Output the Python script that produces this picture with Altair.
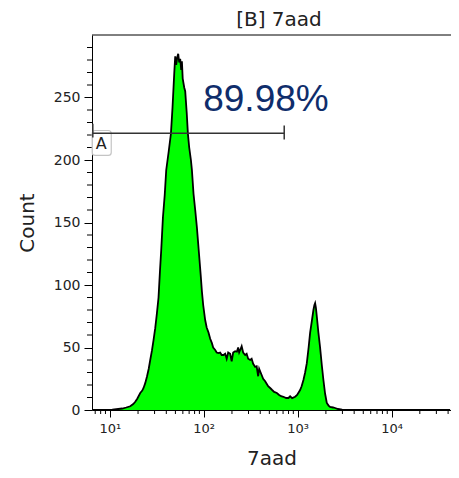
import altair as alt
import pandas as pd

# ---- histogram (7aad channel value, count) ----
channel = [6.6, 7.92, 10.63, 12.31, 13.58, 14.98, 16.52, 17.78, 18.68, 19.62, 21.11, 22.17, 22.89,
           23.86, 24.87, 25.99, 26.97, 28.11, 29.24, 30.48, 31.78, 33.05, 34.29, 35.31, 36.81,
           38.47, 39.92, 42.44, 44.78, 46.57, 48.56, 49.76, 50.99, 52.26, 53.55, 54.89, 56.23,
           57.63, 58.63, 59.79, 62.03, 63.57, 65.94, 67.91, 70.12, 73.10, 74.91, 77.93, 81.24,
           84.69, 87.42, 90.24, 92.91, 95.69, 98.79, 103.7, 107.6, 112.5, 117.3, 122.3, 126.2,
           132.6, 137.5, 143.7, 149.8, 155.4, 162.4, 169.3, 175.7, 182.3, 191.4, 198.6, 206.0,
           216.3, 225.5, 232.8, 238.6, 244.6, 253.7, 263.2, 276.4, 286.7, 297.5, 312.4, 324.1,
           336.3, 353.1, 366.3, 380.0, 389.5, 399.1, 414.1, 429.6, 451.2, 468.1, 485.6, 510.0,
           535.7, 562.3, 600.7, 635.6, 667.6, 706.3, 754.8, 798.5, 832.4, 874.2, 940.6, 987.8,
           1063, 1103, 1153, 1202, 1253, 1309, 1358, 1416, 1473, 1509, 1536, 1565, 1600, 1664,
           1735, 1809, 1882, 1962, 2045, 2137, 2217, 2386, 2506, 2697, 2975, 3618, 7546, 42000]
count = [0, 0, 0.3, 0.8, 1.2, 2.0, 3.0, 4.8, 6.6, 9.0, 13.6, 15.5, 17.6,
         21.5, 26.6, 33, 40, 47.5, 55.9, 65.5, 77.5, 90, 112, 128, 154,
         172, 192, 207, 221, 242, 269, 283, 276, 282, 285, 278, 281,
         272, 279, 265, 258, 255, 238, 221, 210, 200, 192, 173, 160,
         146, 133, 120, 108, 95, 84, 72, 66, 62, 57, 53.5, 50,
         48, 46, 45.5, 46, 44, 44, 45, 41, 46, 45, 39, 46,
         47, 46.6, 50, 46, 48, 51, 46, 44, 45, 41, 40, 41,
         37, 34.5, 35, 27, 33, 31, 28, 25, 23, 21, 19, 17.6,
         16, 14.5, 13.6, 12, 11, 10.6, 9.6, 9.6, 11, 9.5, 10.6, 12,
         16, 19, 24, 30, 37.5, 50, 61.7, 71, 80, 84, 85.5, 82, 75, 62,
         50, 36, 24, 13, 5.6, 3.5, 2.4, 2.0, 1.6, 0.8, 0.3, 0, 0, 0]

# ---- axes ----
x_domain = [6.47, 42950]
y_domain = [0, 300]
x_major = [10, 100, 1000, 10000]
x_minor = [7, 8, 9, 20, 30, 40, 50, 60, 70, 80, 90, 200, 300, 400, 500, 600, 700, 800, 900,
           2000, 3000, 4000, 5000, 6000, 7000, 8000, 9000, 20000, 30000, 40000]
y_major = [0, 50, 100, 150, 200, 250]
y_minor = [10, 20, 30, 40, 60, 70, 80, 90, 110, 120, 130, 140, 160, 170, 180, 190,
           210, 220, 230, 240, 260, 270, 280, 290]

# ---- gate "A" ----
gate_x = [6.6, 720]
gate_y = [221.5]
gate_cap_x = [6.6, 720]
gate_cap_lo = [218, 216.5]
gate_cap_hi = [229, 227.6]
box_x = [6.5, 10.37]
box_y = [203.7, 223.6]
label_A = ["A"]
label_A_pos = [8.12, 213]
pct_text = ["89.98%"]
pct_pos = [98.8, 239.6]
chart_title = ["[B] 7aad"]

W, H = 359, 375
FONT = "DejaVu Sans"

xs = alt.Scale(type="log", domain=x_domain, nice=False)
ys = alt.Scale(domain=y_domain, nice=False, zero=True)

x_axis = alt.Axis(values=x_major, tickSize=7, labelPadding=5, labelFontSize=13,
                  labelExpr="'10' + (datum.value == 10 ? '¹' : datum.value == 100 ? '²' : datum.value == 1000 ? '³' : '⁴')",
                  grid=False, titleY=48, titleBaseline="middle", labelFlush=False)
y_axis = alt.Axis(values=y_major, tickSize=8, labelPadding=4, labelFontSize=14,
                  grid=False, titleX=-65, titleBaseline="middle", labelFlush=False)


def X(field):
    return alt.X(field, scale=xs, axis=x_axis, title="7aad")


def Y(field):
    return alt.Y(field, scale=ys, axis=y_axis, title="Count")


df = pd.DataFrame({"channel": channel, "count": count})

hist = alt.Chart(df).mark_area(
    color="#00ff00", opacity=1, fillOpacity=1, interpolate="linear",
    line={"color": "black", "strokeWidth": 1.8}
).encode(x=X("channel:Q"), y=Y("count:Q"))

xminor = alt.Chart(pd.DataFrame({"v": x_minor})).mark_rule(color="black", strokeWidth=1).encode(
    x=X("v:Q"), y=alt.value(H), y2=alt.value(H + 4))

yminor = alt.Chart(pd.DataFrame({"v": y_minor})).mark_rule(color="black", strokeWidth=1).encode(
    y=Y("v:Q"), x=alt.value(-5), x2=alt.value(0))

topline = alt.Chart(pd.DataFrame({"v": [y_domain[1]]})).mark_rule(color="black", strokeWidth=1).encode(
    y=Y("v:Q"), x=alt.value(0), x2=alt.value(W))

box = alt.Chart(pd.DataFrame({"x": [box_x[0]], "x2": [box_x[1]], "y": [box_y[0]], "y2": [box_y[1]]})).mark_rect(
    fill="white", stroke="#c4c4c4", strokeWidth=1.2, cornerRadius=3
).encode(x=X("x:Q"), x2="x2:Q", y=Y("y:Q"), y2="y2:Q")

gate = alt.Chart(pd.DataFrame({"x": [gate_x[0]], "x2": [gate_x[1]], "y": gate_y})).mark_rule(
    color="#333333", strokeWidth=1.5
).encode(x=X("x:Q"), x2="x2:Q", y=Y("y:Q"))

caps = alt.Chart(pd.DataFrame({"x": gate_cap_x, "lo": gate_cap_lo, "hi": gate_cap_hi})).mark_rule(
    color="#333333", strokeWidth=1.5
).encode(x=X("x:Q"), y=Y("lo:Q"), y2="hi:Q")

a_text = alt.Chart(pd.DataFrame({"x": [label_A_pos[0]], "y": [label_A_pos[1]], "t": label_A})).mark_text(
    font=FONT, fontSize=16, color="#222222", align="center", baseline="middle"
).encode(x=X("x:Q"), y=Y("y:Q"), text="t:N")

p_text = alt.Chart(pd.DataFrame({"x": [pct_pos[0]], "y": [pct_pos[1]], "t": pct_text})).mark_text(
    font="Liberation Sans", fontSize=37, color="#0f2d6b", align="left", baseline="alphabetic"
).encode(x=X("x:Q"), y=Y("y:Q"), text="t:N")

title_text = alt.Chart(pd.DataFrame({"t": chart_title})).mark_text(
    font=FONT, fontSize=20, color="#222222", align="center", baseline="alphabetic"
).encode(x=alt.value(187), y=alt.value(-9), text="t:N")

chart = alt.layer(hist, xminor, yminor, topline, box, gate, caps, a_text, p_text, title_text).properties(
    width=W, height=H,
    autosize=alt.AutoSizeParams(type="none"),
    padding={"left": 84, "top": 27, "right": 0, "bottom": 60},
).configure_view(stroke=None).configure_axis(
    domainColor="black", tickColor="black", labelFont=FONT, labelColor="#222222",
    titleFont=FONT, titleFontSize=20, titleFontWeight="normal", titleColor="#222222",
    domainWidth=1, tickWidth=1
)

chart.save("out.html", embed_options={"renderer": "svg", "actions": False})
